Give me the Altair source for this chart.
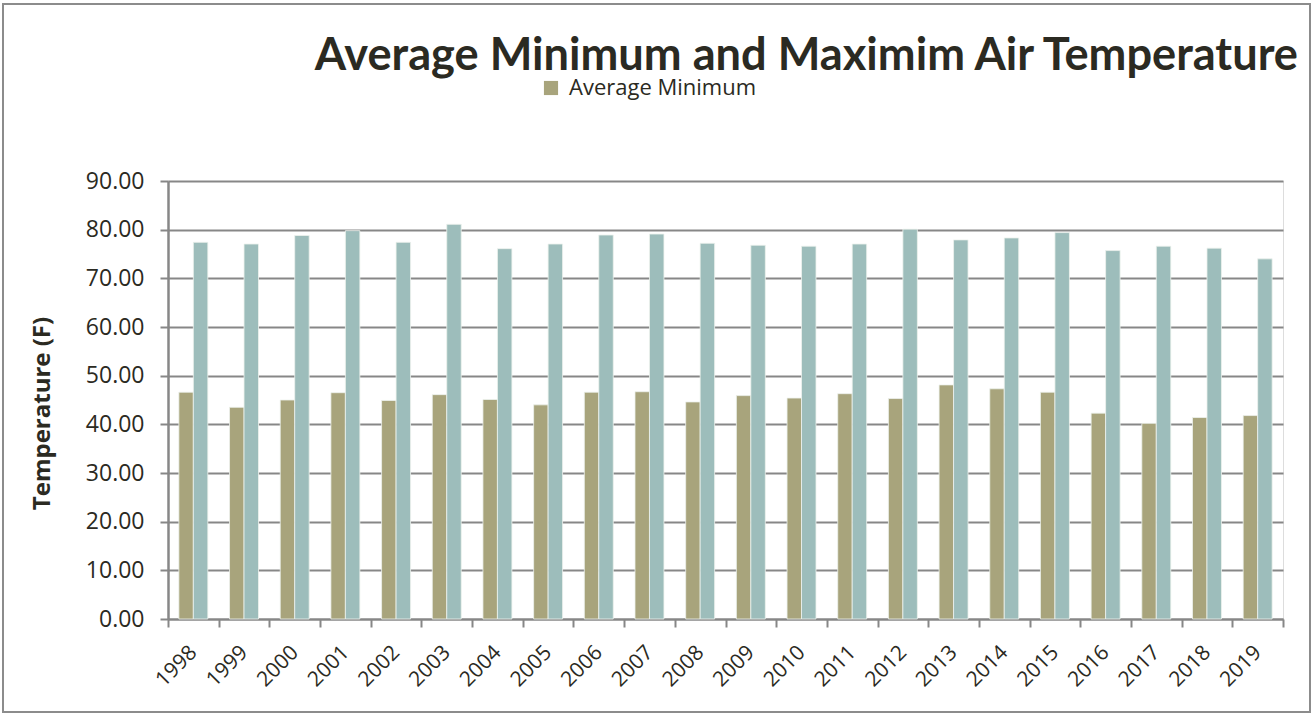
import altair as alt
import pandas as pd

years = [str(y) for y in range(1998, 2020)]
avg_min = [46.6, 43.5, 45.0, 46.5, 44.9, 46.1, 45.1, 44.0, 46.6, 46.7, 44.6,
           45.9, 45.4, 46.3, 45.3, 48.1, 47.3, 46.6, 42.3, 40.2, 41.4, 41.8]
avg_max = [77.4, 77.05, 78.8, 79.8, 77.4, 81.1, 76.1, 77.05, 78.9, 79.1, 77.2,
           76.8, 76.6, 77.05, 80.1, 77.9, 78.3, 79.4, 75.7, 76.6, 76.2, 74.0]
series = ["Average Minimum", "Average Maximum"]
colors = ["#A8A47C", "#9DBDBB"]

rows = []
for i, y in enumerate(years):
    rows.append({"Year": y, "Series": series[0], "Value": avg_min[i]})
    rows.append({"Year": y, "Series": series[1], "Value": avg_max[i]})
df = pd.DataFrame(rows)

TXT = "#2b2a22"
FONT = "Open Sans"

bars = alt.Chart(df).mark_bar(stroke="#eef2ee", strokeWidth=0.8).encode(
    x=alt.X("Year:N", sort=years, title=None,
            scale=alt.Scale(paddingInner=0, paddingOuter=0),
            axis=alt.Axis(tickBand="extent", labelAngle=-45, labelFontSize=21,
                          labelFont=FONT, labelColor=TXT, tickSize=8,
                          tickColor="#878787", tickWidth=2, domainColor="#878787",
                          domainWidth=2, labelPadding=22, labelAlign="right",
                          labelBaseline="middle", grid=False)),
    xOffset=alt.XOffset("Series:N", sort=series,
                        scale=alt.Scale(paddingInner=0, paddingOuter=0.75)),
    y=alt.Y("Value:Q", title="Temperature (F)",
            scale=alt.Scale(domain=[0, 90]),
            axis=alt.Axis(values=list(range(0, 100, 10)), format=".2f",
                          labelFontSize=23, labelFont=FONT, labelColor=TXT,
                          tickSize=8, tickColor="#878787", tickWidth=2,
                          domainColor="#878787", domainWidth=2.5,
                          labelPadding=16, gridColor="#878787", gridWidth=2,
                          titleFont=FONT, titleFontSize=24, titleFontWeight="bold",
                          titleColor=TXT, titleAngle=-90, titleX=-126, titleY=232,
                          titleAlign="center", titleBaseline="middle")),
    color=alt.Color("Series:N", sort=series,
                    scale=alt.Scale(domain=series, range=colors),
                    legend=alt.Legend(values=["Average Minimum"], title=None,
                                      orient="none", legendX=372, legendY=-104,
                                      symbolType="square", symbolSize=200,
                                      symbolStrokeWidth=0, labelLimit=0,
                                      labelFont=FONT, labelFontSize=22,
                                      labelColor=TXT, labelOffset=7)),
)

border = alt.Chart(pd.DataFrame({"a": [0]})).mark_rect(
    fill=None, stroke="#8c8c8c", strokeWidth=2
).encode(x=alt.value(-165), x2=alt.value(1142), y=alt.value(-177), y2=alt.value(531))

chart = alt.layer(bars, border).properties(
    width=1115, height=438,
    title=alt.TitleParams("Average Minimum and Maximim Air Temperature",
                          anchor="end", font="Lato", fontSize=45.2, fontWeight="bold",
                          color=TXT, offset=-112, dx=-13, baseline="alphabetic"),
    autosize=alt.AutoSizeParams(type="none"),
    padding={"left": 168, "top": 181, "right": 30, "bottom": 96},
).configure_view(stroke=None).configure(background="white")

chart.save("out.html", embed_options={"renderer": "svg", "actions": False})
